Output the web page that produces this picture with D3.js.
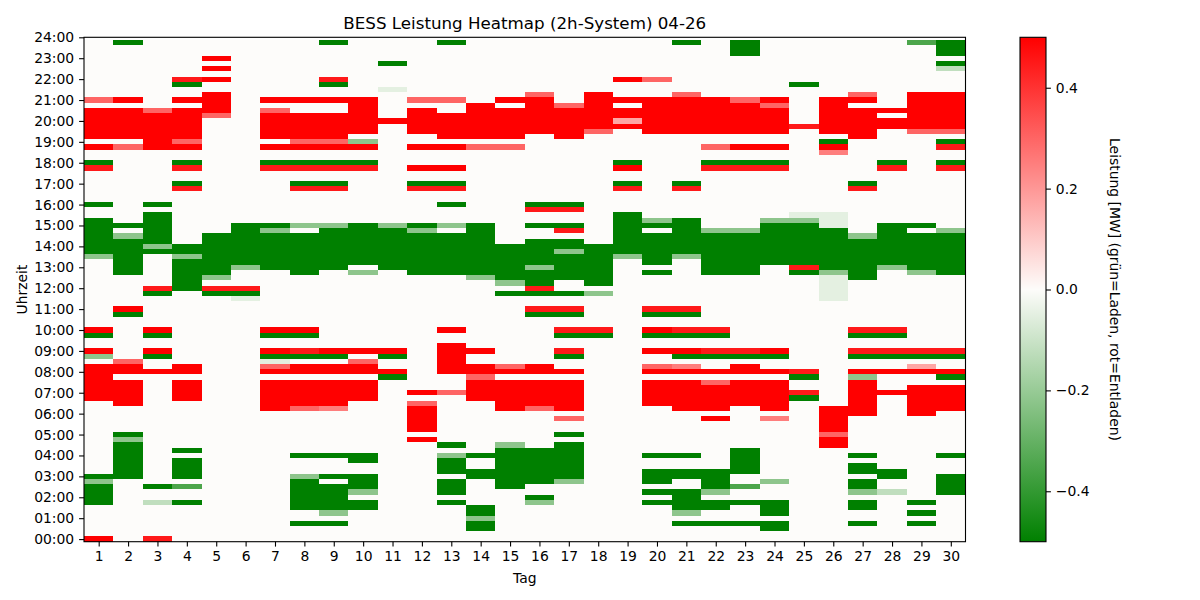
<!DOCTYPE html>
<html>
<head>
<meta charset="utf-8">
<script src="https://cdn.jsdelivr.net/npm/d3@7"></script>
<style>
  body { margin: 0; background: #fff; }
  svg text { font-family: "DejaVu Sans", sans-serif; fill: #000; }
</style>
</head>
<body>
<script>
const TITLE = "BESS Leistung Heatmap (2h-System) 04-26";
const X_LABEL = "Tag";
const Y_LABEL = "Uhrzeit";
const CBAR_LABEL = "Leistung [MW] (grün=Laden, rot=Entladen)";

const DAYS = [1, 2, 3, 4, 5, 6, 7, 8, 9, 10, 11, 12, 13, 14, 15,
  16, 17, 18, 19, 20, 21, 22, 23, 24, 25, 26, 27, 28, 29, 30];

// quarter-hour slot of each hour tick
const HOUR_TICKS = [0, 4, 8, 12, 16, 20, 24, 28, 32, 36, 40, 44, 48,
  52, 56, 60, 64, 68, 72, 76, 80, 84, 88, 92, 96];
const HOUR_LABELS = ["00:00", "01:00", "02:00", "03:00", "04:00", "05:00", "06:00",
  "07:00", "08:00", "09:00", "10:00", "11:00", "12:00", "13:00", "14:00", "15:00",
  "16:00", "17:00", "18:00", "19:00", "20:00", "21:00", "22:00", "23:00", "24:00"];

const CBAR_TICKS = [-0.4, -0.2, 0.0, 0.2, 0.4];

// power in MW for each symbol used below
const LEVELS = {
  "R": 0.5, "r": 0.45, "o": 0.3, "p": 0.25, "q": 0.17, ".": 0,
  "f": -0.05, "h": -0.12, "g": -0.22, "m": -0.35, "G": -0.5
};

// one string per day, 96 quarter hours from 00:00 upward, a group of 4 per hour
const POWER = [
  "R... ...G GGGg G... .... .... ...R RRRR RR.g R..G R... .... .... ..gG GGGG GG.. G... ...r G..R .RRR RRR. o... .... ....",
  ".... .... .... GGGG GGGg G... ..RR RRR. RRo. .... ...G R... ...G GGGG GGg. G... .... .... ...o .RRR RRR. R... .... ...G",
  "r... ...h ..G. .... .... .... .... .... R..G R..G R... ...G r... ...G gGGG GGG. G... .... ...R RRRR RRo. .... .... ....",
  ".... ...G ..m. GGGG .G.. .... ...R RRR. RR.. .... .... .... GGGG GGgG G... .... ...r G..r G..R oRRR RRR. R..G r... ....",
  ".... .... .... .... .... .... .... .... .... .... .... ...G r.gG GGGG GGG. .... .... .... .... .... .oRR RR.. R.R. R...",
  ".... .... .... .... .... .... .... .... .... .... .... ..fG r... gGGG GGGG G... .... .... .... .... .... .... .... ....",
  ".... .... .... .... .... .... .RRR RRR. RofG R..G R... .... .... GGGG GGGg G... .... ...r G..R .RRR RRo. R... .... ....",
  "...G ..GG GGGG g... G... .... .oRR RRR. RR.G r..G R... .... ...G GGGG GGG. g... ...r G..r G..R oRRR RR.. R... .... ....",
  "...G .gGG GGG. G... G... .... .pRR RRR. RR.G R... .... .... .... GGGG GGGG g... ...r G..r G..R oRRR RR.. R..G r... ...G",
  ".... ..GG .gGG G..G G... .... ...R RRR. RRo. R... .... .... ...g .GGG GGGG G... .... ...r G..R g.RR RRRR R... .... ....",
  ".... .... .... .... .... .... .... ...G R..G R... .... .... .... GGGG GGGG g... .... .... .... .... R... ..f. ...G ....",
  ".... .... .... .... ...R .RRR RRo. R... .... .... .... .... ...G GGGG GGGg G... ...r G..R ...R ..RR RRR. o... .... ....",
  ".... ...G .GGG .GGG g.G. .... .... o... RRRR RR.. R... .... ...G GGGG GGG. g... G..r G..R ...R .RRR RR.. o... .... ...G",
  "..GG gGG. .... GG.. G... .... ...R RRRo RR.. R... .... .... ..gG GGGG GGGG G... .... .... ...o .RRR RRRR .... .... ....",
  ".... .... ..GG GGGG GGg. .... .RRR RRR. Ro.. .... .... ...G .gGG GGGG G... .... .... .... ...o .RRR RRR. R... .... ....",
  ".... ...g G..G GGGG GG.. .... .oRR RRR. RR.. .... ...G r..G rGGG gGGG GG.. G..r G... .... .... ..RR RRRR Ro.. .... ....",
  ".... .... ...g GGGG GGG. G..o .RRR RRR. R..G r..G r..G r..G ..GG GGGg GG.r G..r G... .... .... .RRR RRRo .... .... ....",
  ".... .... .... .... .... .... .... .... .... ...G r... ...g .GGG GGGG G... .... .... .... .... ..oR RRRR RR.. .... ....",
  ".... .... .... .... .... .... .... .... .... .... .... .... .... ..gG GGGG GGG. ...r G..R G... ...R qRR. R... R... ....",
  ".... ...G .G.G GG.. G... .... ..RR RRR. Ro.. R..G R..G r... ...G .GGG GGG. Gg.. .... .... .... ..RR RRRR R... o... ....",
  "...G .gGG GG.. GG.. G... .... .RRR RRR. Rp.G R..G r..G r... .... ..gG GGGG GG.. ...r G... .... ..RR RRRR Ro.. .... ...G",
  "...G ..GG .gGG GG.. .... ...R .RRR RRo. R..G r..G r... .... ...G GGGG GGGg .... .... ...r G..o ..RR RRRR R... .... ....",
  "...G ...G ..m. .GGG GG.. .... ..RR RRR. RR.G r... .... .... ...G GGGG GGGg .... .... ...r G..R ..RR RRRR o... .... .GGG",
  "..GG .GGG ...g .... .... ...p .RRR RRR. R..G R... .... .... .... .GGG GGGG Gg.. .... ...r G..R ..RR RRRo R... .... ....",
  ".... .... .... .... .... .... ...G r..G r... .... .... .... ...G rGGG GGGG Ggf. .... .... .... ...r .... ...G .... ....",
  ".... .... .... .... ..RR oRRR RR.. .... .... .... .... ..ff fffg GGGG GGGG fff. .... .... ..pR G.RR RRRR R... .... ....",
  "...G ..GG .gGG .GG. G... .... RRRR RRRg R..G r..G r... .... ..GG GGGG GGg. .... ...r G... .... .RRR RRR. Ro.. .... ....",
  ".... .... .h.. GG.. .... .... .... R... R..G r..G r... .... .... gGGG GGGG G... .... ...r G... ...R R.R. .... .... ....",
  "...G .G.G .... .... .... .... RRRR RR.. Rq.G r... .... .... ...g GGGG GGG. G... .... .... .... ..oR RRRR RR.. .... ...m",
  ".... .... .GGG G... G... .... .RRR RR.G R..G r... .... .... ...G GGGG GGGg .... .... ...r G..r G.oR RRRR RR.. ..hG .GGG"
];

const WIDTH = 1200;
const HEIGHT = 600;
const PLOT = { left: 84, right: 965.5, top: 37.3, bottom: 541.7 };
const CBAR = { left: 1020, right: 1046 };
const TICK_LEN = 4.9;
const TICK_PAD = 4.9;
const TICK_FONT = 13.9;

const x = d3.scaleLinear([0.5, DAYS.length + 0.5], [PLOT.left, PLOT.right]);
const y = d3.scaleLinear([-0.5, 96], [PLOT.bottom, PLOT.top]);
const color = d3.scaleLinear([-0.5, 0, 0.5], ["#008000", "#fdfcfa", "#ff0000"]).clamp(true);

const cells = POWER.flatMap((str, i) => {
  const slots = str.replace(/ /g, "").split("");
  if (slots.length !== 96) console.warn("day", DAYS[i], "has", slots.length, "slots");
  return slots.map((c, k) => ({ day: DAYS[i], slot: k, value: LEVELS[c] }));
});

const svg = d3.select("body").append("svg")
    .attr("width", WIDTH)
    .attr("height", HEIGHT)
    .attr("viewBox", [0, 0, WIDTH, HEIGHT]);

svg.append("rect")
    .attr("width", WIDTH)
    .attr("height", HEIGHT)
    .attr("fill", "#fff");

// heatmap cells
svg.append("g")
    .attr("shape-rendering", "crispEdges")
  .selectAll("rect")
  .data(cells)
  .join("rect")
    .attr("x", d => x(d.day - 0.5))
    .attr("y", d => y(d.slot + 0.5))
    .attr("width", d => x(d.day + 0.5) - x(d.day - 0.5))
    .attr("height", d => y(d.slot - 0.5) - y(d.slot + 0.5))
    .attr("fill", d => color(d.value));

// axes
const xAxis = d3.axisBottom(x)
    .tickValues(DAYS)
    .tickFormat(d3.format("d"))
    .tickSize(TICK_LEN)
    .tickPadding(TICK_PAD);

const yAxis = d3.axisLeft(y)
    .tickValues(HOUR_TICKS)
    .tickFormat((d, i) => HOUR_LABELS[i])
    .tickSize(TICK_LEN)
    .tickPadding(TICK_PAD);

function styleAxis(g) {
  g.select(".domain").remove();
  g.selectAll(".tick line").attr("stroke", "#000").attr("stroke-width", 1.1);
  g.selectAll(".tick text")
      .attr("font-family", "DejaVu Sans, sans-serif")
      .attr("font-size", TICK_FONT)
      .attr("fill", "#000");
}

svg.append("g")
    .attr("transform", `translate(0,${PLOT.bottom})`)
    .call(xAxis)
    .call(styleAxis);

svg.append("g")
    .attr("transform", `translate(${PLOT.left},0)`)
    .call(yAxis)
    .call(styleAxis);

// frame
svg.append("rect")
    .attr("x", PLOT.left)
    .attr("y", PLOT.top)
    .attr("width", PLOT.right - PLOT.left)
    .attr("height", PLOT.bottom - PLOT.top)
    .attr("fill", "none")
    .attr("stroke", "#000")
    .attr("stroke-width", 1.1);

// labels
svg.append("text")
    .attr("x", (PLOT.left + PLOT.right) / 2)
    .attr("y", 23)
    .attr("text-anchor", "middle")
    .attr("dominant-baseline", "central")
    .attr("font-size", 16.7)
    .text(TITLE);

svg.append("text")
    .attr("x", (PLOT.left + PLOT.right) / 2)
    .attr("y", 578)
    .attr("text-anchor", "middle")
    .attr("dominant-baseline", "central")
    .attr("font-size", TICK_FONT)
    .text(X_LABEL);

svg.append("text")
    .attr("transform", `translate(22,${(PLOT.top + PLOT.bottom) / 2}) rotate(-90)`)
    .attr("text-anchor", "middle")
    .attr("dominant-baseline", "central")
    .attr("font-size", TICK_FONT)
    .text(Y_LABEL);

// colorbar
const cy = d3.scaleLinear([-0.5, 0.5], [PLOT.bottom, PLOT.top]);

const grad = svg.append("defs").append("linearGradient")
    .attr("id", "cbar")
    .attr("x1", 0).attr("y1", 1)
    .attr("x2", 0).attr("y2", 0);

grad.selectAll("stop")
  .data(color.domain())
  .join("stop")
    .attr("offset", d => (d + 0.5))
    .attr("stop-color", d => color(d));

svg.append("rect")
    .attr("x", CBAR.left)
    .attr("y", PLOT.top)
    .attr("width", CBAR.right - CBAR.left)
    .attr("height", PLOT.bottom - PLOT.top)
    .attr("fill", "url(#cbar)")
    .attr("stroke", "#000")
    .attr("stroke-width", 1.1);

svg.append("g")
    .attr("transform", `translate(${CBAR.right},0)`)
    .call(d3.axisRight(cy)
      .tickValues(CBAR_TICKS)
      .tickFormat(d3.format(".1f"))
      .tickSize(TICK_LEN)
      .tickPadding(TICK_PAD))
    .call(styleAxis);

svg.append("text")
    .attr("transform", `translate(1115,${(PLOT.top + PLOT.bottom) / 2}) rotate(90)`)
    .attr("text-anchor", "middle")
    .attr("dominant-baseline", "central")
    .attr("font-size", TICK_FONT)
    .text(CBAR_LABEL);
</script>
</body>
</html>
